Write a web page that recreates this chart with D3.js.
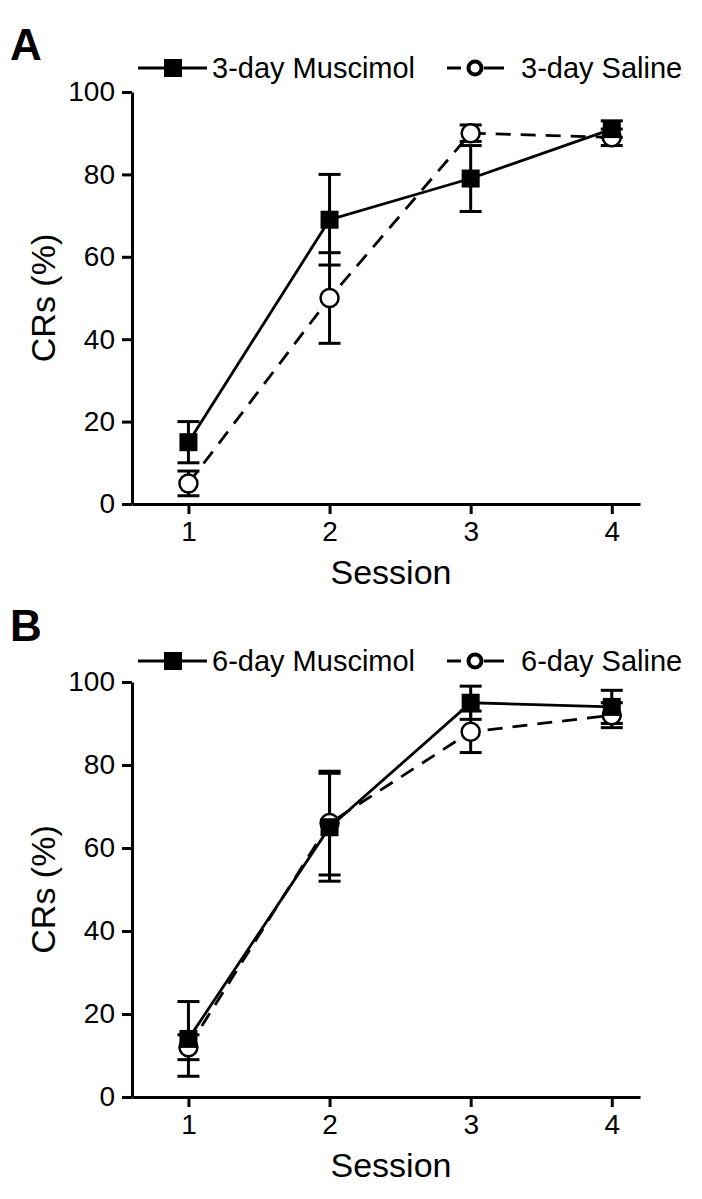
<!DOCTYPE html>
<html>
<head>
<meta charset="utf-8">
<script src="https://cdn.jsdelivr.net/npm/d3@7"></script>
<style>
  html, body { margin: 0; padding: 0; background: #fff; }
  svg { display: block; }
  text { font-family: "Liberation Sans", Arial, Helvetica, sans-serif; fill: #000; }
</style>
</head>
<body>
<svg id="chart" width="702" height="1199"></svg>
<script>
// ---- data ----
const sessions = [1, 2, 3, 4];
const yTicks = [0, 20, 40, 60, 80, 100];

const panelLetters = ["A", "B"];
const muscimolLabels = ["3-day Muscimol", "6-day Muscimol"];
const salineLabels = ["3-day Saline", "6-day Saline"];

const muscimol3 = [15, 69, 79, 91];
const muscimol3Err = [5, 11, 8, 2];
const saline3 = [5, 50, 90, 89];
const saline3Err = [3, 11, 2, 2];

const muscimol6 = [14, 65, 95, 94];
const muscimol6Err = [9, 13, 4, 4];
const saline6 = [12, 66, 88, 92];
const saline6Err = [3, 12.5, 5, 3];

const xLabel = "Session";
const yLabel = "CRs (%)";

// ---- drawing ----
const svg = d3.select("#chart");

function drawPanel(opt) {
  const g = svg.append("g");
  const x = d3.scaleLinear().domain([0.6, 4.2]).range([132, 640]);
  const y = d3.scaleLinear().domain([0, 100]).range([opt.y0, opt.y100]);

  // panel letter
  g.append("text").attr("x", 10).attr("y", opt.letterY)
    .attr("font-size", 44).attr("font-weight", "bold").text(opt.letter);

  // y axis
  const ya = g.append("g").attr("transform", "translate(132,0)")
    .call(d3.axisLeft(y).tickValues(yTicks).tickSize(10).tickSizeOuter(0).tickPadding(7));
  // x axis
  const xa = g.append("g").attr("transform", `translate(0,${opt.y0})`)
    .call(d3.axisBottom(x).tickValues(sessions).tickSize(10).tickSizeOuter(0).tickPadding(7).tickFormat(d3.format("d")));
  [ya, xa].forEach(a => {
    a.select(".domain").attr("stroke", "#000").attr("stroke-width", 3);
    a.selectAll(".tick line").attr("stroke", "#000").attr("stroke-width", 3);
    a.selectAll(".tick text").attr("font-size", 28).attr("font-family", "Liberation Sans, Arial, sans-serif").attr("fill", "#000");
  });

  // axis titles
  g.append("text").attr("x", 391).attr("y", opt.y0 + 80)
    .attr("text-anchor", "middle").attr("font-size", 34).text(xLabel);
  g.append("text")
    .attr("transform", `translate(55,${(opt.y0 + opt.y100) / 2}) rotate(-90)`)
    .attr("text-anchor", "middle").attr("font-size", 34).text(yLabel);

  const line = d3.line().x((d, i) => x(sessions[i])).y(d => y(d));

  const series = [
    { vals: opt.sal, err: opt.salErr, dash: "15,10", marker: "circle" },
    { vals: opt.mus, err: opt.musErr, dash: null, marker: "square" }
  ];

  // lines
  series.forEach(s => {
    g.append("path").datum(s.vals).attr("d", line)
      .attr("fill", "none").attr("stroke", "#000").attr("stroke-width", 2.8)
      .attr("stroke-dasharray", s.dash);
  });
  // error bars
  series.forEach(s => {
    const eg = g.append("g").attr("stroke", "#000").attr("stroke-width", 3);
    s.vals.forEach((v, i) => {
      const cx = x(sessions[i]);
      eg.append("line").attr("x1", cx).attr("x2", cx).attr("y1", y(v - s.err[i])).attr("y2", y(v + s.err[i]));
      [v - s.err[i], v + s.err[i]].forEach(e => {
        eg.append("line").attr("x1", cx - 11).attr("x2", cx + 11).attr("y1", y(e)).attr("y2", y(e));
      });
    });
  });
  // markers
  series.forEach(s => {
    s.vals.forEach((v, i) => {
      const cx = x(sessions[i]), cy = y(v);
      if (s.marker === "circle") {
        g.append("circle").attr("cx", cx).attr("cy", cy).attr("r", 9)
          .attr("fill", "#fff").attr("stroke", "#000").attr("stroke-width", 2.5);
      } else {
        g.append("rect").attr("x", cx - 9).attr("y", cy - 9).attr("width", 18).attr("height", 18)
          .attr("fill", "#000");
      }
    });
  });

  // legend
  const ly = opt.legendY;
  const lg = g.append("g");
  lg.append("line").attr("x1", 138).attr("x2", 207).attr("y1", ly).attr("y2", ly)
    .attr("stroke", "#000").attr("stroke-width", 3);
  lg.append("rect").attr("x", 164).attr("y", ly - 9).attr("width", 18).attr("height", 18).attr("fill", "#000");
  lg.append("text").attr("x", 212).attr("y", ly + 10).attr("font-size", 29).text(opt.musLabel);
  lg.append("line").attr("x1", 447).attr("x2", 461).attr("y1", ly).attr("y2", ly)
    .attr("stroke", "#000").attr("stroke-width", 3);
  lg.append("line").attr("x1", 484).attr("x2", 504).attr("y1", ly).attr("y2", ly)
    .attr("stroke", "#000").attr("stroke-width", 3);
  lg.append("circle").attr("cx", 475).attr("cy", ly).attr("r", 6.5)
    .attr("fill", "#fff").attr("stroke", "#000").attr("stroke-width", 4);
  lg.append("text").attr("x", 521).attr("y", ly + 10).attr("font-size", 29).text(opt.salLabel);
}

drawPanel({
  letter: panelLetters[0], letterY: 60, legendY: 68, y0: 504, y100: 92,
  mus: muscimol3, musErr: muscimol3Err, sal: saline3, salErr: saline3Err,
  musLabel: muscimolLabels[0], salLabel: salineLabels[0]
});
drawPanel({
  letter: panelLetters[1], letterY: 641, legendY: 661, y0: 1097, y100: 682,
  mus: muscimol6, musErr: muscimol6Err, sal: saline6, salErr: saline6Err,
  musLabel: muscimolLabels[1], salLabel: salineLabels[1]
});
</script>
</body>
</html>
